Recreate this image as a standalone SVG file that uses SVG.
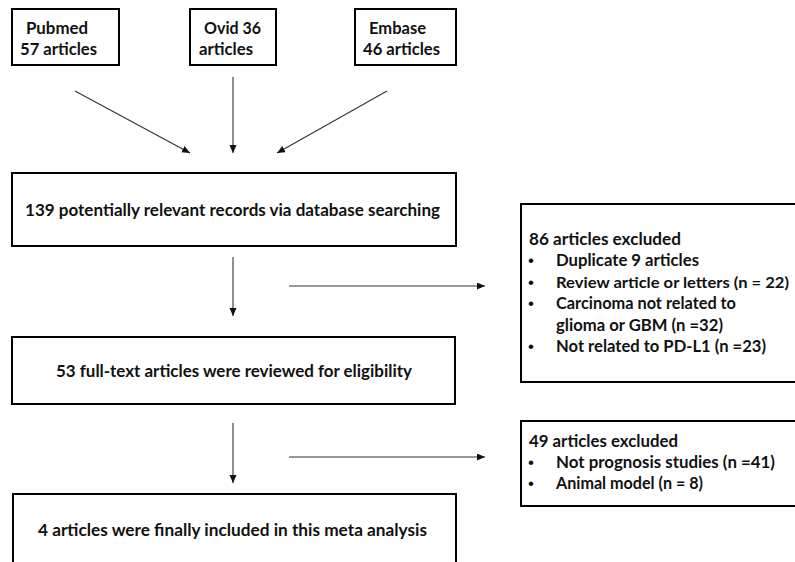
<svg xmlns="http://www.w3.org/2000/svg" width="795" height="562" viewBox="0 0 795 562">
<style>
.box{fill:#fff;stroke:#000;stroke-width:2}
.t{font-family:Lato,"Open Sans","Liberation Sans",sans-serif;font-weight:bold;font-size:17.5px;fill:#111}
.b{font-family:"Liberation Sans",sans-serif;font-size:17px;fill:#111}
.c{stroke:#333;stroke-width:1.1;fill:none;marker-end:url(#ah)}
</style>
<defs>
<marker id="ah" markerUnits="userSpaceOnUse" markerWidth="9" markerHeight="8" refX="8" refY="3.5" orient="auto">
<path d="M0,0 L8,3.5 L0,7 z" fill="#111"/>
</marker>
</defs>
<rect width="795" height="562" fill="#fff"/>
<g id="connectors">
<line class="c" x1="75" y1="91" x2="190" y2="153"/>
<line class="c" x1="233" y1="77" x2="233" y2="153"/>
<line class="c" x1="387" y1="91" x2="277" y2="153"/>
<line class="c" x1="233" y1="257" x2="233" y2="316"/>
<line class="c" x1="289" y1="286" x2="485" y2="286"/>
<line class="c" x1="233" y1="423" x2="233" y2="483"/>
<line class="c" x1="289" y1="457" x2="485" y2="457"/>
</g>
<g id="pubmed">
<rect class="box" x="12" y="9" width="107" height="56"/>
<text class="t" x="26" y="34" textLength="62" lengthAdjust="spacingAndGlyphs">Pubmed</text>
<text class="t" x="20" y="55" textLength="77" lengthAdjust="spacingAndGlyphs">57 articles</text>
</g>
<g id="ovid">
<rect class="box" x="190" y="9" width="86" height="56"/>
<text class="t" x="204" y="34" textLength="57" lengthAdjust="spacingAndGlyphs">Ovid 36</text>
<text class="t" x="199" y="55" textLength="54" lengthAdjust="spacingAndGlyphs">articles</text>
</g>
<g id="embase">
<rect class="box" x="355" y="9" width="101" height="56"/>
<text class="t" x="369" y="34" textLength="57" lengthAdjust="spacingAndGlyphs">Embase</text>
<text class="t" x="363" y="55" textLength="77" lengthAdjust="spacingAndGlyphs">46 articles</text>
</g>
<g id="records">
<rect class="box" x="12" y="173" width="444" height="73"/>
<text class="t" x="25" y="216" textLength="415" lengthAdjust="spacingAndGlyphs">139 potentially relevant records via database searching</text>
</g>
<g id="excluded86">
<rect class="box" x="521" y="204" width="290" height="178"/>
<text class="t" x="529" y="245" textLength="152" lengthAdjust="spacingAndGlyphs">86 articles excluded</text>
<text class="b" x="528" y="266">•</text>
<text class="t" x="556" y="266" textLength="143" lengthAdjust="spacingAndGlyphs">Duplicate 9 articles</text>
<text class="b" x="528" y="288">•</text>
<text class="t" x="556" y="288" style="font-size:15.2px" textLength="233" lengthAdjust="spacingAndGlyphs">Review article or letters (n = 22)</text>
<text class="b" x="528" y="309">•</text>
<text class="t" x="556" y="309" textLength="180" lengthAdjust="spacingAndGlyphs">Carcinoma not related to</text>
<text class="t" x="556" y="331" textLength="167" lengthAdjust="spacingAndGlyphs">glioma or GBM (n =32)</text>
<text class="b" x="528" y="352">•</text>
<text class="t" x="556" y="352" textLength="210" lengthAdjust="spacingAndGlyphs">Not related to PD-L1 (n =23)</text>
</g>
<g id="fulltext">
<rect class="box" x="12" y="337" width="443" height="67"/>
<text class="t" x="56" y="377" textLength="356" lengthAdjust="spacingAndGlyphs">53 full-text articles were reviewed for eligibility</text>
</g>
<g id="excluded49">
<rect class="box" x="521" y="421" width="290" height="85"/>
<text class="t" x="529" y="447" textLength="149" lengthAdjust="spacingAndGlyphs">49 articles excluded</text>
<text class="b" x="528" y="468">•</text>
<text class="t" x="556" y="468" textLength="219" lengthAdjust="spacingAndGlyphs">Not prognosis studies (n =41)</text>
<text class="b" x="528" y="489">•</text>
<text class="t" x="556" y="489" textLength="147" lengthAdjust="spacingAndGlyphs">Animal model (n = 8)</text>
</g>
<g id="included">
<rect class="box" x="13" y="494" width="443" height="90"/>
<text class="t" x="38" y="536" textLength="389" lengthAdjust="spacingAndGlyphs">4 articles were finally included in this meta analysis</text>
</g>
</svg>
